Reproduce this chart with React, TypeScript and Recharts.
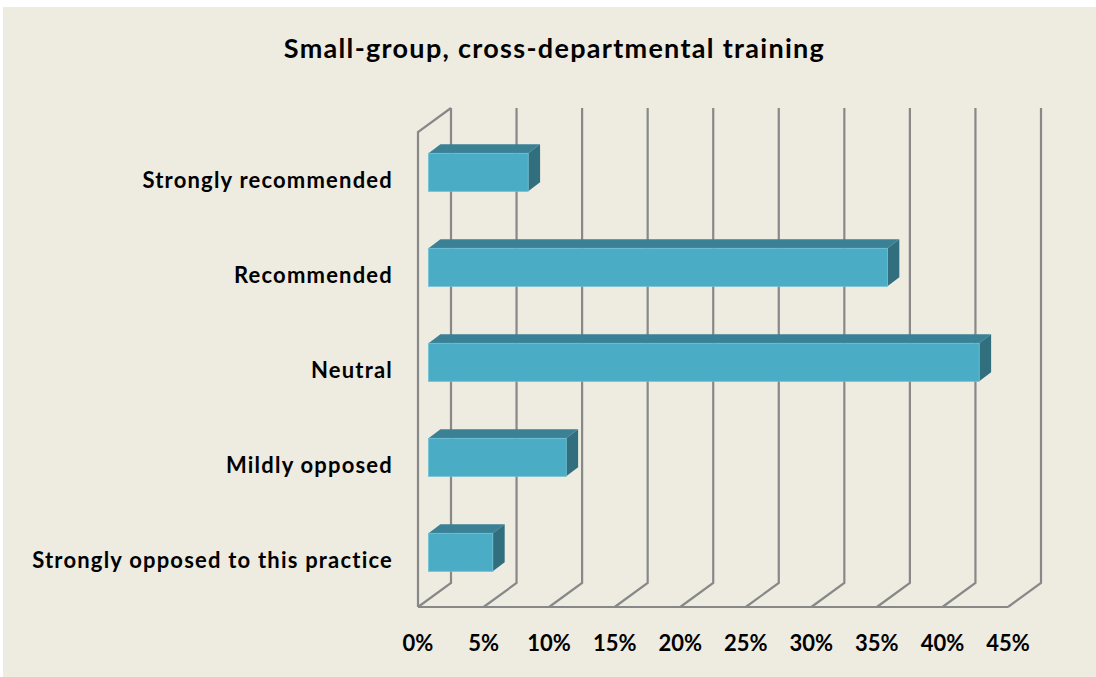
import { BarChart, Bar, XAxis, YAxis, CartesianGrid } from 'recharts';

const categories = [
  'Strongly recommended',
  'Recommended',
  'Neutral',
  'Mildly opposed',
  'Strongly opposed to this practice',
];
const shares = [7.6, 35.0, 42.0, 10.5, 4.9];
const xTicks = [0, 5, 10, 15, 20, 25, 30, 35, 40, 45];

const data = categories.map((name, i) => ({ name, share: shares[i] }));

// 3D look: floor depth offset and where the bar sits within that depth
const DX = 33;
const DY = 24;
const GRID = '#888888';
const FONT = 'Lato, "Open Sans", sans-serif';

function Bar3D(props: any) {
  const { x, y, width, height } = props;
  if (!width || width <= 0) return null;
  const fx = x + DX * 0.32;
  const fy = y - DY * 0.32;
  const bx = DX * 0.36;
  const by = DY * 0.38;
  return (
    <g>
      <polygon
        points={`${fx},${fy} ${fx + bx},${fy - by} ${fx + width + bx},${fy - by} ${fx + width},${fy}`}
        fill="#3a8196"
      />
      <polygon
        points={`${fx + width},${fy} ${fx + width + bx},${fy - by} ${fx + width + bx},${fy + height - by} ${fx + width},${fy + height}`}
        fill="#316f7f"
      />
      <rect x={fx} y={fy} width={width} height={height} fill="#4bacc6" stroke="#6cbdd3" strokeWidth={0.8} />
    </g>
  );
}

function WallLine(props: any) {
  const { x1, y1, y2, index } = props;
  const x = x1;
  let d = `M${x + DX},${y1 - DY} L${x + DX},${y2 - DY} L${x},${y2}`;
  if (index === 0) d += ` M${x},${y2} L${x},${y1} L${x + DX},${y1 - DY}`;
  return <path key={`wall-${index}`} d={d} fill="none" stroke={GRID} strokeWidth={2.2} strokeLinejoin="miter" />;
}

function CategoryTick(props: any) {
  const { x, y, payload } = props;
  return (
    <text
      x={x}
      y={y + 8}
      textAnchor="end"
      fill="#000"
      fontSize={22}
      fontWeight={700}
      fontFamily={FONT}
      style={{ letterSpacing: '1.2px' }}
    >
      {payload.value}
    </text>
  );
}

export default function App() {
  return (
    <div style={{ position: 'absolute', left: 0, top: 0, width: 1096, height: 677, background: '#ffffff' }}>
      <div style={{ position: 'absolute', left: 3, top: 7, right: 0, bottom: 0, background: '#eeebe0' }} />
      <div
        style={{
          position: 'absolute',
          left: 0,
          top: 34,
          width: 1109,
          textAlign: 'center',
          fontFamily: FONT,
          fontWeight: 700,
          fontSize: 27,
          lineHeight: '27px',
          letterSpacing: '1.3px',
          color: '#000',
        }}
      >
        Small-group, cross-departmental training
      </div>
      <div style={{ position: 'absolute', left: 0, top: 0 }}>
        <BarChart
          width={1096}
          height={677}
          data={data}
          layout="vertical"
          margin={{ top: 132, right: 88, bottom: 30, left: 0 }}
          barSize={38}
        >
          <CartesianGrid horizontal={false} vertical={WallLine} />
          <XAxis
            type="number"
            domain={[0, 45]}
            ticks={xTicks}
            interval={0}
            height={40}
            tickSize={0}
            tickMargin={28}
            tickFormatter={(v: number) => `${v}%`}
            axisLine={{ stroke: GRID, strokeWidth: 2.2 }}
            tick={{ fill: '#000', fontSize: 22, fontWeight: 700, fontFamily: FONT }}
          />
          <YAxis
            type="category"
            dataKey="name"
            width={418}
            tickSize={0}
            tickMargin={25}
            axisLine={false}
            interval={0}
            tick={CategoryTick}
          />
          <Bar dataKey="share" shape={Bar3D} isAnimationActive={false} />
        </BarChart>
      </div>
    </div>
  );
}
